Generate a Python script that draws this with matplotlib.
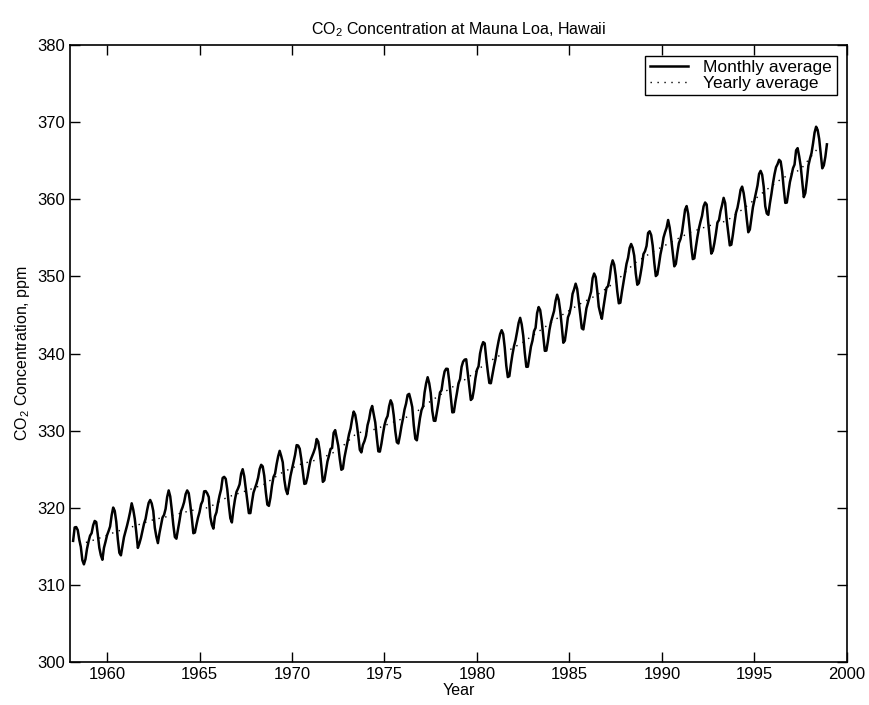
import numpy as np
import matplotlib.pyplot as plt

plt.rcParams['font.family'] = ['Liberation Sans', 'DejaVu Sans']
plt.rcParams['mathtext.default'] = 'regular'

# moyennes mensuelles (ppm), mars 1958 -> decembre 1998
co2_1958_59 = [315.71, 317.45, 317.50, 317.10, 315.86, 314.93, 313.20, 312.66, 313.33, 314.67,
               315.62, 316.38, 316.71, 317.72, 318.29, 318.15, 316.54, 314.80, 313.84, 313.26, 314.80, 315.58]
co2_1960s = [316.43, 316.97, 317.58, 319.02, 320.03, 319.59, 318.18, 315.91, 314.16, 313.83, 315.00, 316.19,
             316.93, 317.70, 318.54, 319.48, 320.58, 319.77, 318.57, 316.79, 314.80, 315.38, 316.10, 317.01,
             317.94, 318.56, 319.68, 320.63, 321.01, 320.55, 319.58, 317.40, 316.26, 315.42, 316.69, 317.69,
             318.74, 319.08, 319.86, 321.39, 322.25, 321.47, 319.74, 317.77, 316.21, 315.99, 317.12, 318.31,
             319.57, 320.07, 320.73, 321.77, 322.25, 321.89, 320.44, 318.70, 316.70, 316.79, 317.79, 318.71,
             319.44, 320.44, 320.89, 322.13, 322.16, 321.87, 321.39, 318.81, 317.81, 317.30, 318.87, 319.42,
             320.62, 321.59, 322.39, 323.87, 324.01, 323.75, 322.39, 320.37, 318.64, 318.10, 319.79, 321.08,
             322.07, 322.50, 323.04, 324.42, 325.00, 324.09, 322.55, 320.92, 319.31, 319.31, 320.72, 321.96,
             322.57, 323.15, 323.89, 325.02, 325.57, 325.36, 324.14, 322.03, 320.41, 320.25, 321.31, 322.84,
             324.00, 324.42, 325.64, 326.66, 327.38, 326.70, 325.89, 323.67, 322.38, 321.78, 322.85, 324.11]
co2_1970s = [325.03, 325.99, 326.87, 328.13, 328.07, 327.66, 326.35, 324.69, 323.10, 323.16, 323.98, 325.13,
             326.17, 326.68, 327.18, 327.78, 328.92, 328.57, 327.34, 325.46, 323.36, 323.57, 324.80, 326.01,
             326.77, 327.63, 327.75, 329.72, 330.07, 329.09, 328.05, 326.32, 324.93, 325.06, 326.50, 327.55,
             328.54, 329.56, 330.30, 331.50, 332.48, 332.07, 330.87, 329.31, 327.51, 327.18, 328.16, 328.64,
             329.35, 330.71, 331.48, 332.65, 333.20, 332.16, 331.07, 329.12, 327.32, 327.28, 328.30, 329.58,
             330.73, 331.46, 331.90, 333.17, 333.94, 333.45, 331.98, 329.95, 328.50, 328.34, 329.37, 330.58,
             331.59, 332.75, 333.52, 334.64, 334.77, 334.00, 333.06, 330.68, 328.95, 328.75, 330.15, 331.62,
             332.66, 333.13, 334.95, 336.13, 336.93, 336.17, 334.88, 332.56, 331.29, 331.27, 332.41, 333.60,
             334.95, 335.25, 336.66, 337.69, 338.03, 338.01, 336.41, 334.41, 332.37, 332.41, 333.75, 334.90,
             336.14, 336.69, 338.27, 338.95, 339.21, 339.26, 337.54, 335.75, 333.98, 334.19, 335.31, 336.81]
co2_1980s = [337.90, 338.34, 340.01, 340.93, 341.48, 341.33, 339.40, 337.70, 336.19, 336.15, 337.27, 338.32,
             339.29, 340.55, 341.61, 342.53, 343.03, 342.54, 340.78, 338.44, 336.95, 337.08, 338.58, 339.88,
             340.96, 341.73, 342.81, 343.97, 344.63, 343.79, 342.32, 340.09, 338.28, 338.29, 339.60, 340.90,
             341.68, 342.90, 343.33, 345.25, 346.03, 345.63, 344.19, 342.27, 340.35, 340.38, 341.59, 343.05,
             344.10, 344.79, 345.52, 346.84, 347.63, 346.98, 345.53, 343.55, 341.40, 341.67, 343.10, 344.70,
             345.21, 346.16, 347.74, 348.34, 349.06, 348.38, 346.72, 345.02, 343.27, 343.13, 344.49, 345.88,
             346.56, 347.28, 348.01, 349.77, 350.38, 349.93, 348.16, 346.08, 345.22, 344.51, 345.93, 347.22,
             348.52, 348.73, 349.73, 351.31, 352.09, 351.53, 350.11, 348.08, 346.52, 346.59, 347.96, 349.16,
             350.39, 351.64, 352.41, 353.69, 354.21, 353.72, 352.69, 350.40, 348.92, 349.13, 350.20, 351.41,
             352.91, 353.27, 353.96, 355.64, 355.86, 355.37, 353.99, 351.81, 350.05, 350.25, 351.49, 352.85]
co2_1990s = [353.80, 355.04, 355.73, 356.32, 357.32, 356.34, 354.84, 353.01, 351.31, 351.62, 353.07, 354.33,
             354.84, 355.73, 357.23, 358.66, 359.13, 358.13, 356.19, 353.85, 352.25, 352.35, 353.81, 355.12,
             356.25, 357.11, 357.86, 359.09, 359.59, 359.33, 357.01, 354.94, 352.96, 353.32, 354.32, 355.57,
             357.00, 357.31, 358.47, 359.27, 360.19, 359.52, 357.33, 355.64, 354.03, 354.12, 355.41, 356.91,
             358.24, 358.92, 359.99, 361.23, 361.65, 360.81, 359.38, 357.46, 355.73, 356.08, 357.53, 358.98,
             359.92, 360.86, 361.83, 363.30, 363.69, 363.19, 361.64, 359.12, 358.17, 357.99, 359.45, 360.68,
             362.07, 363.24, 364.17, 364.57, 365.13, 364.92, 363.55, 361.38, 359.54, 359.58, 360.89, 362.24,
             363.09, 364.03, 364.51, 366.35, 366.64, 365.59, 364.31, 362.25, 360.29, 360.82, 362.49, 364.38,
             365.26, 365.98, 367.24, 368.66, 369.42, 368.99, 367.82, 365.95, 364.02, 364.40, 365.52, 367.13]

# moyennes annuelles 1958 -> 1998
annees = list(range(1958, 1999))
co2_annuel = [315.23, 315.98, 316.91, 317.64, 318.45, 318.99, 319.62, 320.04, 321.37, 322.18,
              323.05, 324.62, 325.68, 326.32, 327.46, 329.68, 330.19, 331.12, 332.03, 333.84,
              335.41, 336.84, 338.76, 340.12, 341.48, 343.15, 344.85, 346.35, 347.61, 349.31,
              351.69, 353.20, 354.45, 355.70, 356.54, 357.21, 358.96, 360.97, 362.74, 363.88,
              366.84]

mensuel = np.array(co2_1958_59 + co2_1960s + co2_1970s + co2_1980s + co2_1990s)
t_mois = 1958 + (np.arange(len(mensuel)) + 2) / 12.0
t_an = np.array(annees) + 0.5

fig = plt.figure(figsize=(8.7, 7.05), dpi=100)
ax = fig.add_axes([0.0805, 0.061, 0.893, 0.875])

ax.plot(t_mois, mensuel, color='black', lw=1.8, solid_joinstyle='round', label='Monthly average')
ax.plot(t_an, co2_annuel, color='black', lw=1.0, linestyle=(0, (1, 4)), label='Yearly average')

ax.set_xlim(1958, 2000)
ax.set_ylim(300, 380)
ax.set_xticks(range(1960, 2001, 5))
ax.set_yticks(range(300, 381, 10))
ax.tick_params(direction='in', top=True, right=True, labelsize=12, length=7, width=1)
for s in ax.spines.values():
    s.set_linewidth(1.2)

ax.set_title('CO$_2$ Concentration at Mauna Loa, Hawaii', fontsize=11.5, pad=8)
ax.set_xlabel('Year', fontsize=11.5, labelpad=1)
ax.set_ylabel('CO$_2$ Concentration, ppm', fontsize=11.5, labelpad=4)

leg = ax.legend(loc='upper right', fontsize=12.5, fancybox=False, edgecolor='black',
                framealpha=1, borderaxespad=0.6, handlelength=2.2, borderpad=0.25,
                labelspacing=0.05, handletextpad=0.9)
leg.get_frame().set_linewidth(1.0)

fig.savefig('out.png', dpi=100)
